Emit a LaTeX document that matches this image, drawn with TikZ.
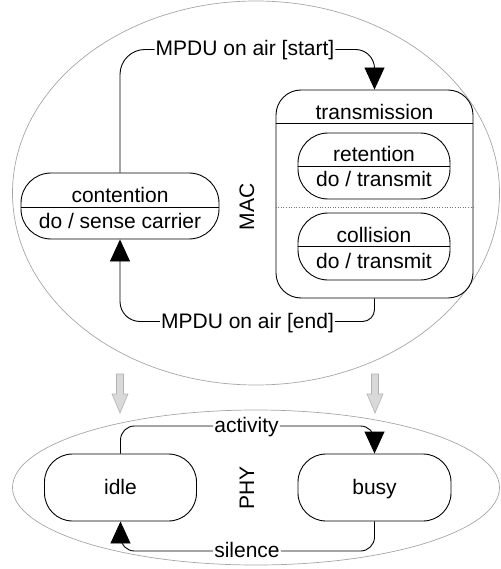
\documentclass[tikz,border=0pt]{standalone}
\usepackage{fontspec}
\setmainfont{Liberation Sans}
\usetikzlibrary{arrows.meta}
\begin{document}
\begin{tikzpicture}[x=1pt,y=-1pt,
  every node/.style={font=\fontsize{21}{25}\selectfont},
  statebox/.style={draw, line width=0.9pt, rounded corners=30pt, inner sep=0pt},
  txt/.style={anchor=base, inner sep=0pt},
  lbl/.style={text height=15pt, text depth=2pt, inner xsep=1pt, inner ysep=0pt},
  conn/.style={line width=0.9pt},
  tip/.style={-{Triangle[width=20pt,length=22pt]}},
  region/.style={draw=black!35, line width=0.7pt},
  grayarrow/.style={fill=black!15, draw=black!30, line width=0.6pt}
]
\useasboundingbox (0,0) rectangle (500,569);

% region ellipses
\draw[region] (256,193) ellipse [x radius=243.5pt, y radius=192pt];
\draw[region] (256,487.5) ellipse [x radius=243.5pt, y radius=77.5pt];

% gray arrows between layers
\draw[grayarrow] (116.5,374) -- (123.5,374) -- (123.5,394) -- (128,394) -- (120,413) -- (112,394) -- (116.5,394) -- cycle;
\draw[grayarrow] (371.5,374) -- (378.5,374) -- (378.5,394) -- (383,394) -- (375,413) -- (367,394) -- (371.5,394) -- cycle;

% MAC states
\node[statebox, minimum width=198pt, minimum height=66pt] (cont) at (120,206) {};
\draw[conn] (cont.west |- 0,207) -- (cont.east |- 0,207);
\node[txt] (conttitle) at (120,203) {contention};
\node[txt] (contdo) at (120,228) {do / sense carrier};

\node[statebox, rounded corners=25pt, minimum width=197pt, minimum height=208pt] (trans) at (374.5,194) {};
\draw[conn] (trans.west |- 0,123) -- (trans.east |- 0,123);
\node[txt] (transtitle) at (374.5,119.5) {transmission};
\draw[black!55, line width=0.6pt, dotted] (trans.west |- 0,207) -- (trans.east |- 0,207);

\node[statebox, minimum width=152pt, minimum height=66pt] (ret) at (374,166) {};
\draw[conn] (ret.west |- 0,166) -- (ret.east |- 0,166);
\node[txt] (rettitle) at (374,161.5) {retention};
\node[txt] (retdo) at (374,186.5) {do / transmit};

\node[statebox, minimum width=152pt, minimum height=67pt] (coll) at (374,246.5) {};
\draw[conn] (coll.west |- 0,246) -- (coll.east |- 0,246);
\node[txt] (colltitle) at (374,242.5) {collision};
\node[txt] (colldo) at (374,268.5) {do / transmit};

\node[rotate=90, inner sep=0pt] (mac) at (247,207) {MAC};

% MAC transitions
\node[lbl] (lstart) at (245,49.5) {MPDU on air [start]};
\node[lbl] (lend) at (247.5,321.5) {MPDU on air [end]};
\draw[conn, rounded corners=25pt] (cont.north) |- (lstart.west);
\draw[conn, tip, rounded corners=19pt] (lstart.east) -| (trans.north);
\draw[conn, rounded corners=12pt] (trans.south) |- (lend.east);
\draw[conn, tip, rounded corners=20pt] (lend.west) -| (cont.south);

% PHY states
\node[statebox, rounded corners=28pt, minimum width=152pt, minimum height=67pt, text height=15pt, text depth=2pt] (idle) at (120.5,487.5) {idle};
\node[statebox, rounded corners=28pt, minimum width=153pt, minimum height=67pt, text height=15pt, text depth=2pt] (busy) at (374.5,487.5) {busy};
\node[rotate=90, inner sep=0pt] (phy) at (247,488) {PHY};

% PHY transitions
\node[lbl] (lact) at (246.5,426) {activity};
\node[lbl] (lsil) at (247,551) {silence};
\draw[conn, rounded corners=14pt] (idle.north) |- (lact.west);
\draw[conn, tip, rounded corners=14pt] (lact.east) -| (busy.north);
\draw[conn, rounded corners=14pt] (busy.south) |- (lsil.east);
\draw[conn, tip, rounded corners=14pt] (lsil.west) -| (idle.south);
\end{tikzpicture}
\end{document}
